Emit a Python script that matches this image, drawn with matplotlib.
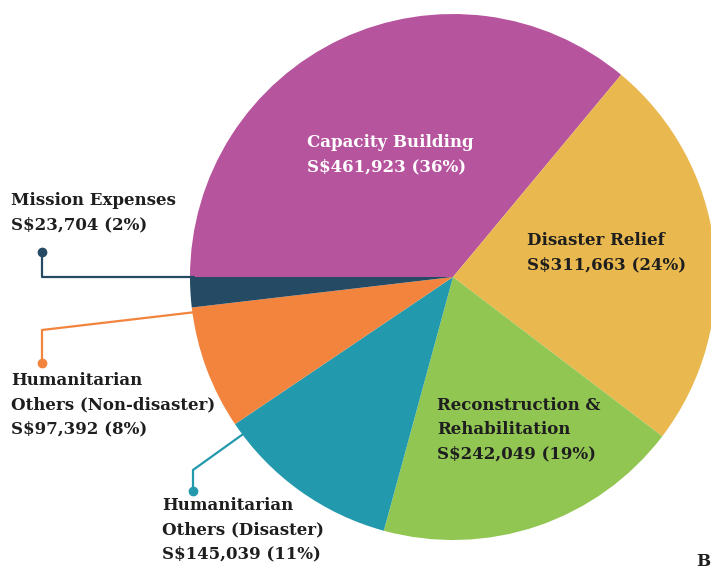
import matplotlib.pyplot as plt

# Datos del gráfico
categories = ["Capacity Building", "Disaster Relief", "Reconstruction &\nRehabilitation",
              "Humanitarian\nOthers (Disaster)", "Humanitarian\nOthers (Non-disaster)",
              "Mission Expenses"]
amounts = [461923, 311663, 242049, 145039, 97392, 23704]
percents = [36, 24, 19, 11, 8, 2]
colors = ["#B6549E", "#E9B94F", "#92C653", "#2399AD", "#F2843D", "#254A63"]

W, H = 711, 574
fig = plt.figure(figsize=(W / 100, H / 100), dpi=100)
ax = fig.add_axes([0, 0, 1, 1])

cx, cy, r = 453, H - 277, 263
ax.pie(amounts, colors=colors, startangle=180, counterclock=False,
       center=(cx, cy), radius=r, wedgeprops=dict(linewidth=0), frame=True)
ax.set_xlim(0, W)
ax.set_ylim(0, H)
ax.set_aspect("equal")
ax.axis("off")

def label(i, x, y, color="#1E1E1E", ha="left"):
    txt = f"{categories[i]}\nS${amounts[i]:,} ({percents[i]}%)"
    ax.text(x, H - y, txt, color=color, fontsize=12, fontweight="bold",
            family="DejaVu Serif", ha=ha, va="top", linespacing=1.55)

# Etiquetas dentro del pastel
label(0, 307, 134, color="white")
label(1, 527, 232)
label(2, 437, 397)
# Etiquetas fuera
label(5, 11, 192)
label(4, 11, 372)
label(3, 162, 497)

# Líneas guía
def leader(pts, color):
    xs = [p[0] for p in pts]
    ys = [H - p[1] for p in pts]
    ax.plot(xs, ys, color=color, lw=1.6, solid_capstyle="butt")
    ax.plot(xs[0], ys[0], "o", color=color, ms=6)

leader([(42, 252), (42, 277), (195, 277)], colors[5])
leader([(42, 363), (42, 330), (196, 312)], colors[4])
leader([(193, 491), (193, 470), (246, 432)], colors[3])

ax.text(696, H - 553, "B", fontsize=12, fontweight="bold", family="DejaVu Serif",
        color="#1E1E1E", ha="left", va="top")

fig.savefig("out.png", dpi=100)
